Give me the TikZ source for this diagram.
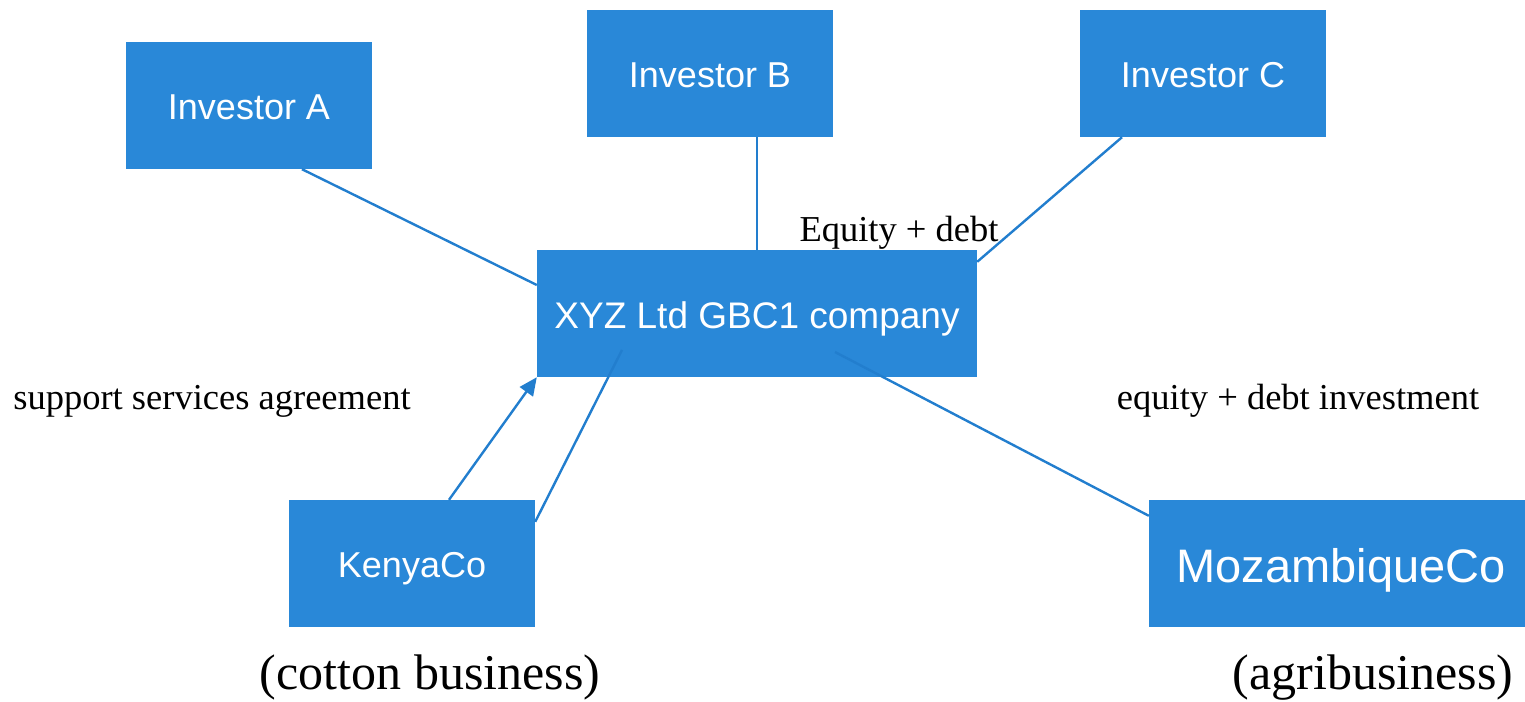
\documentclass[tikz,border=0pt]{standalone}
\usepackage{fontspec}
\setmainfont{Liberation Serif}
\newfontfamily\boxfont{Liberation Sans}
\usetikzlibrary{arrows.meta}
\definecolor{boxblue}{RGB}{41,136,216}
\definecolor{lineblue}{RGB}{34,126,206}
\begin{document}
\begin{tikzpicture}[x=1pt,y=-1pt,
  box/.style={fill=boxblue, draw=none, text=white, inner sep=0pt, minimum height=127pt, text height=28pt, text depth=0pt, font=\boxfont\fontsize{36}{40}\selectfont},
  conn/.style={draw=lineblue, line width=2.4pt},
  lbl/.style={anchor=base, inner sep=0pt, text=black, font=\fontsize{36.5}{40}\selectfont},
  biglbl/.style={anchor=base, inner sep=0pt, text=black, font=\fontsize{50}{54}\selectfont}]
\useasboundingbox (0,0) rectangle (1525,701);
\node[box, minimum width=246pt] (A) at (249,105.5) {Investor A};
\node[box, minimum width=246pt] (B) at (710,73.5) {Investor B};
\node[box, minimum width=246pt] (C) at (1203,73.5) {Investor C};
\node[box, minimum width=440pt, text height=29pt, font=\boxfont\fontsize{37}{40}\selectfont] (X) at (757,313.5) {XYZ Ltd GBC1 company};
\node[box, minimum width=246pt] (K) at (412,563.5) {KenyaCo};
\node[box, minimum width=376pt, text height=37pt, font=\boxfont\fontsize{47}{52}\selectfont] (M) at (1337,563.5) {\hspace*{8pt}MozambiqueCo};
\node[lbl] (eq) at (899,241) {Equity + debt};
\node[lbl] (ssa) at (212,409) {support services agreement};
\node[lbl] (edi) at (1298,409) {equity + debt investment};
\node[biglbl] (cot) at (430,689) {(cotton business)};
\node[biglbl] (agr) at (1373,689) {(agribusiness)};
\draw[conn] ([xshift=53pt]A.south) -- ([yshift=28.5pt]X.west);
\draw[conn] ([xshift=47pt]B.south) -- (X.north);
\draw[conn] ([xshift=-81pt]C.south) -- ([yshift=-12pt]X.north east);
\draw[conn] ([xshift=78pt,yshift=-38.5pt]X.center) -- ([yshift=-16pt]M.north west);
\draw[conn, -{Triangle[length=18pt,width=16pt]}] ([xshift=37pt]K.north) -- (X.south west);
\draw[conn] ([yshift=-22pt]K.north east) -- ([xshift=-135pt,yshift=-36.5pt]X.center);
\end{tikzpicture}
\end{document}
